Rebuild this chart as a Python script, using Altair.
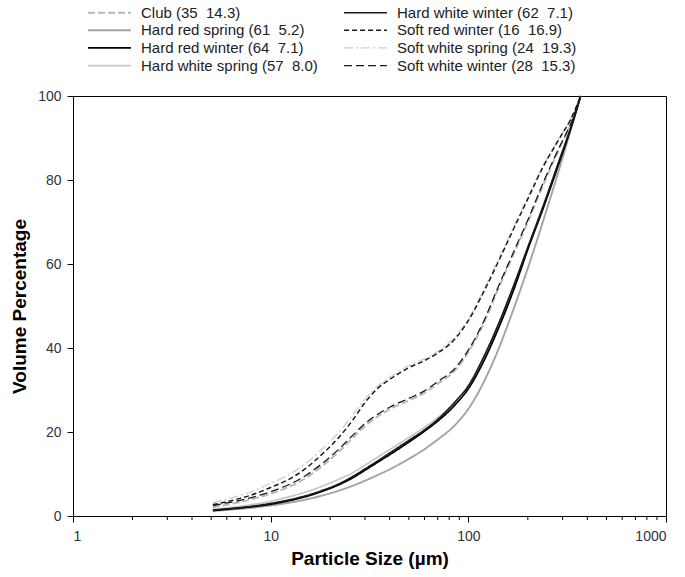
import altair as alt
import pandas as pd

# particle sizes (µm)
sizes = [5.1, 6, 7, 8, 10, 12, 15, 18, 22, 26, 30, 35, 40, 50, 60, 70, 85, 100,
         120, 140, 170, 200, 240, 290, 330, 370]

# cumulative volume percentage per wheat class
club = [2.1, 2.7, 3.3, 4.0, 5.3, 6.7, 9.0, 11.7, 15.2, 18.6, 21.4, 23.8, 25.4, 27.5,
        29.3, 31.5, 34.5, 39.0, 46.0, 53.5, 62.5, 70.0, 79.0, 87.7, 93.3, 100]
hard_red_spring = [1.2, 1.45, 1.7, 1.95, 2.5, 3.05, 3.9, 4.8, 6.0, 7.2, 8.4, 9.8, 11.1, 13.6,
                   15.9, 18.2, 21.5, 25.5, 32.0, 39.0, 49.5, 59.0, 70.5, 83.0, 92.0, 100]
hard_red_winter = [1.3, 1.6, 1.9, 2.2, 2.8, 3.5, 4.6, 5.8, 7.4, 9.1, 10.9, 12.9, 14.6, 17.6,
                   20.2, 22.6, 26.3, 30.3, 37.0, 44.0, 54.0, 63.5, 73.5, 84.5, 92.3, 100]
hard_white_spring = [1.6, 1.9, 2.3, 2.7, 3.5, 4.4, 5.7, 7.0, 8.7, 10.3, 12.1, 14.1, 15.8, 18.7,
                     21.1, 23.4, 27.0, 31.0, 38.0, 45.0, 55.0, 64.0, 74.0, 85.0, 92.5, 100]
hard_white_winter = [1.4, 1.7, 2.0, 2.3, 3.0, 3.7, 4.8, 6.0, 7.6, 9.4, 11.2, 13.2, 15.0, 18.0,
                     20.5, 23.0, 27.0, 31.0, 38.0, 45.0, 55.0, 64.0, 74.0, 85.0, 92.5, 100]
soft_red_winter = [2.7, 3.4, 4.2, 5.0, 6.8, 8.4, 11.3, 14.5, 18.6, 22.8, 27.0, 30.5, 32.5, 35.3,
                   37.0, 38.8, 42.0, 46.5, 53.5, 60.0, 68.5, 75.5, 83.3, 90.0, 94.5, 100]
soft_white_spring = [3.2, 4.0, 4.9, 5.8, 7.8, 9.5, 12.5, 15.7, 19.8, 24.0, 27.8, 31.0, 33.0, 35.8,
                     37.4, 39.2, 42.5, 47.0, 54.0, 60.5, 69.0, 76.0, 83.6, 90.2, 94.6, 100]
soft_white_winter = [2.5, 3.1, 3.7, 4.4, 5.8, 7.2, 9.6, 12.3, 15.8, 19.2, 22.0, 24.3, 25.9, 28.0,
                     29.8, 32.0, 35.0, 39.5, 46.5, 54.0, 63.0, 70.5, 79.5, 88.0, 93.5, 100]

labels = {
    "club": "Club (35\u00a0 14.3)",
    "hrs": "Hard red spring (61\u00a0 5.2)",
    "hrw": "Hard red winter (64\u00a0 7.1)",
    "hws": "Hard white spring (57\u00a0 8.0)",
    "hww": "Hard white winter (62\u00a0 7.1)",
    "srw": "Soft red winter (16\u00a0 16.9)",
    "sws": "Soft white spring (24\u00a0 19.3)",
    "sww": "Soft white winter (28\u00a0 15.3)",
}
series = {
    "club": club, "hrs": hard_red_spring, "hrw": hard_red_winter,
    "hws": hard_white_spring, "hww": hard_white_winter, "srw": soft_red_winter,
    "sws": soft_white_spring, "sww": soft_white_winter,
}
gray_keys = ["hws", "hrs", "club", "sws"]
black_keys = ["hrw", "hww", "srw", "sww"]

minor_ticks = [2, 3, 4, 5, 6, 7, 8, 9, 20, 30, 40, 50, 60, 70, 80, 90,
               200, 300, 400, 500, 600, 700, 800, 900]


def frame(keys):
    rows = []
    for k in keys:
        for s, v in zip(sizes, series[k]):
            rows.append({"size": s, "vol": v, "series": labels[k]})
    return pd.DataFrame(rows)


# legend laid out in 2 columns (filled column by column)
legend_order = ["club", "hrs", "hrw", "hws", "hww", "srw", "sws", "sww"]
domain = [labels[k] for k in legend_order]
style = {
    "club": ("#b9b9b9", [7, 3], 2.0),
    "hww": ("#1a1a1a", [1, 0], 1.8),
    "hrs": ("#a3a3a3", [1, 0], 1.3),
    "srw": ("#1a1a1a", [5, 3], 1.6),
    "hrw": ("#000000", [1, 0], 2.8),
    "sws": ("#cfcfcf", [9, 3, 2, 3], 1.6),
    "hws": ("#c6c6c6", [1, 0], 3.2),
    "sww": ("#1a1a1a", [8, 4], 1.8),
}
colors = [style[k][0] for k in legend_order]
dashes = [style[k][1] for k in legend_order]
widths = [style[k][2] for k in legend_order]

FONT = "Liberation Sans"

xscale = alt.Scale(type="log", domain=[1, 1000])
yscale = alt.Scale(domain=[0, 100])

legend = alt.Legend(
    title=None, orient="none", legendX=9, legendY=-91, columns=2,
    symbolType="M-4,0H4", symbolSize=115, symbolOffset=20, labelOffset=24,
    labelFont=FONT, labelFontSize=15, labelColor="#222", labelLimit=400,
    rowPadding=1.7, columnPadding=20, padding=0,
)


def lines(keys):
    return alt.Chart(frame(keys)).mark_line(interpolate="monotone").encode(
        x=alt.X("size:Q", scale=xscale,
                axis=alt.Axis(values=[1, 10, 100, 1000], format="d",
                              title="Particle Size (µm)", grid=False,
                              tickSize=6, labelPadding=7, titlePadding=6)),
        y=alt.Y("vol:Q", scale=yscale,
                axis=alt.Axis(values=[0, 20, 40, 60, 80, 100], title="Volume Percentage",
                              grid=False, tickSize=6, labelPadding=6, titlePadding=8)),
        color=alt.Color("series:N", scale=alt.Scale(domain=domain, range=colors), legend=legend),
        strokeDash=alt.StrokeDash("series:N", scale=alt.Scale(domain=domain, range=dashes), legend=legend),
        strokeWidth=alt.StrokeWidth("series:N", scale=alt.Scale(domain=domain, range=widths), legend=legend),
    )


minor = alt.Chart(pd.DataFrame({"t": minor_ticks})).mark_rule(color="#000", strokeWidth=1).encode(
    x=alt.X("t:Q", scale=xscale),
    y=alt.value(420),
    y2=alt.value(424),
)

chart = alt.layer(lines(gray_keys), lines(black_keys), minor).properties(
    width=593, height=420,
    autosize=alt.AutoSizeParams(type="none"),
    padding={"left": 73, "top": 96, "right": 19, "bottom": 61},
    background="white",
).configure_view(stroke="#000", strokeWidth=1).configure_axis(
    domainColor="#000", tickColor="#000", labelFont=FONT, labelFontSize=14,
    labelColor="#333", titleFont=FONT, titleFontSize=19, titleFontWeight="bold",
    titleColor="#000",
)

chart.save("out.html", embed_options={"renderer": "svg", "actions": False})
